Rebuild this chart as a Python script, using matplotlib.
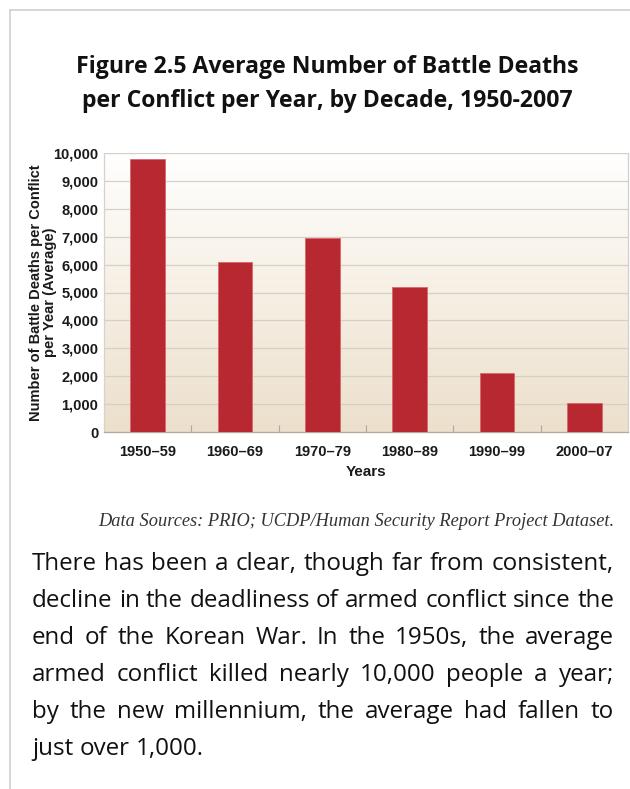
import numpy as np
import matplotlib
matplotlib.use('Agg')
from matplotlib import pyplot as plt
from matplotlib.colors import LinearSegmentedColormap
from matplotlib.lines import Line2D
from matplotlib.ticker import FuncFormatter, FixedLocator

# Average battle deaths per conflict per year, by decade
decades = ['1950\u201359', '1960\u201369', '1970\u201379', '1980\u201389', '1990\u201399', '2000\u201307']
deaths = [9800, 6100, 6950, 5200, 2100, 1030]

title = 'Figure 2.5 Average Number of Battle Deaths\nper Conflict per Year, by Decade, 1950-2007'
ylabel = 'Number of Battle Deaths per Conflict\nper Year (Average)'
source = 'Data Sources: PRIO; UCDP/Human Security Report Project Dataset.'
caption = [
    'There has been a clear, though far from consistent,',
    'decline in the deadliness of armed conflict since the',
    'end of the Korean War. In the 1950s, the average',
    'armed conflict killed nearly 10,000 people a year;',
    'by the new millennium, the average had fallen to',
    'just over 1,000.',
]

W, H = 630, 789
fig = plt.figure(figsize=(W / 100, H / 100), dpi=100)
fig.patch.set_facecolor('white')

# Panel frame: top and left rule
frame_col = '#cfcfcf'
fig.add_artist(Line2D([10 / W, 1], [1 - 10 / H, 1 - 10 / H], color=frame_col, lw=1.2))
fig.add_artist(Line2D([10 / W, 10 / W], [0, 1 - 10 / H], color=frame_col, lw=1.2))

fig.text(327 / W, 1 - 84 / H, title, ha='center', va='center', family='Open Sans',
         weight='bold', fontsize=16.6, linespacing=1.55, color='#111111')

ax = fig.add_axes([104 / W, 1 - 432 / H, 524 / W, 279 / H])
x = np.arange(len(decades))

# Background gradient, white at the top fading to beige
grad = LinearSegmentedColormap.from_list('bg', ['#ffffff', '#f6efe4', '#ece0cc'])
ax.imshow(np.linspace(0, 1, 256).reshape(-1, 1), cmap=grad, aspect='auto',
          extent=[-0.5, len(decades) - 0.5, 0, 10000], origin='upper', zorder=0)

ax.bar(x, deaths, width=0.4, color='#b72830', edgecolor='#d9666b', linewidth=0.6, zorder=3)

ax.set_xlim(-0.5, len(decades) - 0.5)
ax.set_ylim(0, 10000)
ax.set_yticks(np.arange(0, 10001, 1000))
ax.yaxis.set_major_formatter(FuncFormatter(lambda v, p: f'{int(v):,}'))
ax.grid(axis='y', color='#d6cfc4', lw=0.9, zorder=1)
ax.set_axisbelow(True)

ax.set_xticks(x)
ax.set_xticklabels(decades)
ax.xaxis.set_minor_locator(FixedLocator(x[:-1] + 0.5))
ax.tick_params(axis='x', which='major', length=0, pad=9)
ax.tick_params(axis='x', which='minor', direction='in', length=5, color='#b0a89c', width=0.8)
ax.tick_params(axis='y', length=0, pad=4)
for lab in ax.get_xticklabels() + ax.get_yticklabels():
    lab.set_family('Liberation Sans')
    lab.set_weight('bold')
    lab.set_fontsize(10.5)
    lab.set_color('#1a1a1a')

for side, col in [('left', '#d8d2c8'), ('right', '#d0d0d0'), ('bottom', '#b3aa9d')]:
    ax.spines[side].set_color(col)
    ax.spines[side].set_linewidth(0.9)
ax.spines['top'].set_visible(False)

ax.set_xlabel('Years', family='Liberation Sans', weight='bold', fontsize=11,
              color='#1a1a1a', labelpad=5)
ax.set_ylabel(ylabel, family='Liberation Sans', weight='bold', fontsize=10.5,
              color='#1a1a1a', linespacing=1.05, labelpad=-3)

fig.text(614 / W, 1 - 522 / H, source, ha='right', va='center', family='Liberation Serif',
         style='italic', fontsize=13.2, color='#333333')

# Justified caption paragraph, sized so the longest line sets the measure
renderer = fig.canvas.get_renderer()
x0, x1 = 32, 614
y_first, dy = 570, 37
body = dict(family='Open Sans', fontsize=10, color='#111111', va='baseline', ha='left')
probe = [fig.text(0, 0, line, **body) for line in caption[:-1]]
widest = max(t.get_window_extent(renderer).width for t in probe)
for t in probe:
    t.remove()
body['fontsize'] = 10 * (x1 - x0) / widest

space = fig.text(0, 0, 'a a', **body)
aa = fig.text(0, 0, 'aa', **body)
sw = space.get_window_extent(renderer).width - aa.get_window_extent(renderer).width
space.remove()
aa.remove()
for i, line in enumerate(caption):
    words = line.split()
    y = 1 - (y_first + i * dy) / H
    texts = [fig.text(0, y, w, **body) for w in words]
    widths = [t.get_window_extent(renderer).width for t in texts]
    last = i == len(caption) - 1
    gap = sw if last else (x1 - x0 - sum(widths)) / (len(words) - 1)
    pos = x0
    for t, w in zip(texts, widths):
        t.set_x(pos / W)
        pos += w + gap

fig.savefig('out.png', dpi=100)
